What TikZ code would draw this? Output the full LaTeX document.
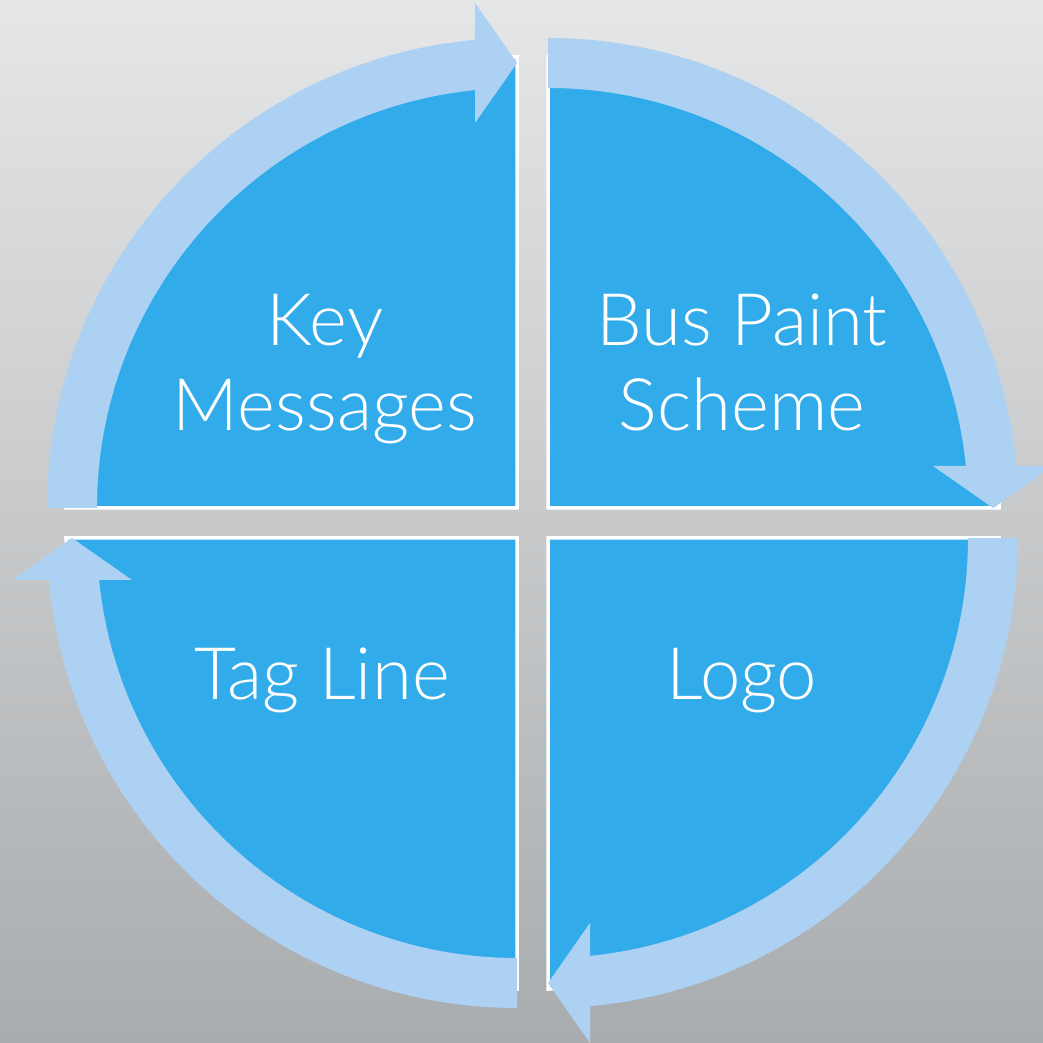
\documentclass[tikz,border=0pt]{standalone}
\usepackage{fontspec}
\setmainfont{Lato}[UprightFont=* Light]
\definecolor{bgtop}{HTML}{E5E6E8}
\definecolor{bgmid}{HTML}{D1D2D4}
\definecolor{bgbot}{HTML}{A9ACAE}
\definecolor{quadblue}{HTML}{32ABEB}
\definecolor{ringblue}{HTML}{ADD1F3}

\begin{document}
\begin{tikzpicture}[x=0.01cm, y=0.01cm,
    wedge/.style={fill=quadblue, draw=white, line width=1pt},
    arrowring/.style={fill=ringblue},
    quadtext/.style={text=white, font=\fontsize{20.6}{24.2}\selectfont, align=center, anchor=base}]
  \useasboundingbox (0, 0) rectangle (1043, 1043);
  \clip (0, 0) rectangle (1043, 1043);
  \shade [top color=bgtop, middle color=bgmid, bottom color=bgbot] (0, 0) rectangle (1043, 1043);

  % the four quarter discs
  \draw [wedge] (517, 535) -- ++(90:451) arc (90:180:451) -- cycle;
  \draw [wedge] (548, 535) -- ++(0:451) arc (0:90:451) -- cycle;
  \draw [wedge] (548, 505) -- ++(-90:451) arc (-90:0:451) -- cycle;
  \draw [wedge] (517, 505) -- ++(180:451) arc (180:270:451) -- cycle;

  % curved arrows round the outside, clockwise
  \foreach \cx/\cy/\a in {517/535/180, 548/535/90, 548/505/0, 517/505/-90} {
    \begin{scope}[shift={(\cx, \cy)}]
      \fill [arrowring] (\a:470) arc (\a:\a-84.87:470)
        -- (\a-85.246:506.74) -- (\a-90:445) -- (\a-83.774:387.28)
        -- (\a-84.26:420) arc (\a-84.26:\a:420) -- cycle;
    \end{scope}
  }

  \node [quadtext] (key) at (325, 612) {Key\\Messages};
  \node [quadtext] (bus) at (742, 612) {Bus Paint\\Scheme};
  \node [quadtext] (tag) at (322, 343) {Tag Line};
  \node [quadtext] (logo) at (742, 343) {Logo};
\end{tikzpicture}
\end{document}
